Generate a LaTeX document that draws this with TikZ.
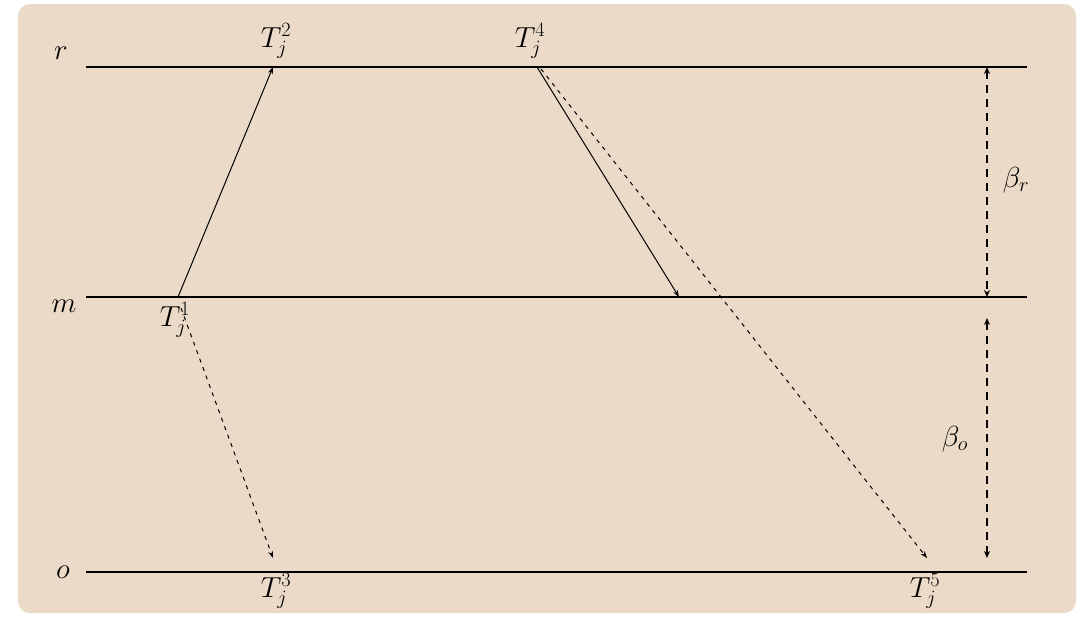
\RequirePackage{fix-cm}
\documentclass[tikz,border=0pt]{standalone}
\usetikzlibrary{arrows.meta}
\definecolor{bgbeige}{RGB}{235,218,199}
\tikzset{
  lbl/.style={inner sep=0pt, font=\fontsize{29}{33}\selectfont},
  level/.style={line width=2pt},
  msg/.style={line width=1pt, -{Stealth[length=7pt,width=5pt]}},
  dmsg/.style={line width=1pt, dash pattern=on 4pt off 5pt, -{Stealth[length=7pt,width=5pt]}},
  span/.style={line width=2.5pt, dash pattern=on 8pt off 6pt, {Stealth[length=7pt,width=6pt]}-{Stealth[length=7pt,width=6pt]}},
}
\begin{document}
\begin{tikzpicture}[x=1pt,y=-1pt]
\useasboundingbox (0,0) rectangle (1079,616);
\fill[bgbeige, rounded corners=12pt] (18,4) rectangle (1076,613);
% levels
\coordinate (rL) at (86,67);  \coordinate (rR) at (1027,67);
\coordinate (mL) at (86,297); \coordinate (mR) at (1027,297);
\coordinate (oL) at (86,572); \coordinate (oR) at (1027,572);
\draw[level] (rL) -- (rR);
\draw[level] (mL) -- (mR);
\draw[level] (oL) -- (oR);
\node[lbl] (lr) at (61,53) {$r$};
\node[lbl] (lm) at (64,306) {$m$};
\node[lbl] (lo) at (63,572) {$o$};
% event labels
\node[lbl] (T1) at (175,320) {$T_j^1$};
\node[lbl] (T2) at (276,41) {$T_j^2$};
\node[lbl] (T3) at (276,591) {$T_j^3$};
\node[lbl] (T4) at (530,41) {$T_j^4$};
\node[lbl] (T5) at (925,591) {$T_j^5$};
% event points
\coordinate (p1) at (178,297);
\coordinate (p1b) at (181,308);
\coordinate (p2) at (273,67);
\coordinate (p3) at (273,558);
\coordinate (p4) at (537,67);
\coordinate (p4b) at (541,69);
\coordinate (pm) at (679,297);
\coordinate (p5) at (927,558);
% messages
\draw[msg] (p1) -- (p2);
\draw[msg] (p4) -- (pm);
\draw[dmsg] (p1b) -- (p3);
\draw[dmsg] (p4b) -- (p5);
% spans
\coordinate (br1) at (987,67);
\coordinate (br2) at (987,297);
\coordinate (bo1) at (987,318);
\coordinate (bo2) at (987,558);
\draw[span] (br1) -- (br2);
\draw[span] (bo1) -- (bo2);
\node[lbl] (betar) at (1016,180) {$\beta_r$};
\node[lbl] (betao) at (955,439) {$\beta_o$};
\end{tikzpicture}
\end{document}
